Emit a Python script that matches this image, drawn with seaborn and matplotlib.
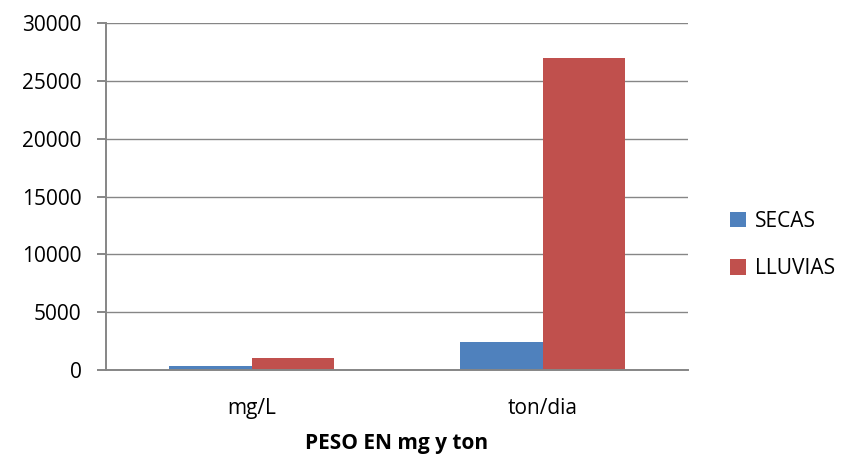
import matplotlib
matplotlib.use("Agg")
import matplotlib.pyplot as plt
import seaborn as sns
import pandas as pd

categories = ["mg/L", "ton/dia"]
secas = [350, 2450]
lluvias = [1000, 27000]
series_names = ["SECAS", "LLUVIAS"]
colors = ["#4F81BD", "#C0504D"]
yticks = [0, 5000, 10000, 15000, 20000, 25000, 30000]

df = pd.DataFrame({
    "categoria": categories * 2,
    "valor": secas + lluvias,
    "serie": [series_names[0]] * len(categories) + [series_names[1]] * len(categories),
})

sns.set_style("white")
plt.rcParams["font.family"] = ["Open Sans", "DejaVu Sans"]
plt.rcParams["text.color"] = "black"
plt.rcParams["xtick.color"] = "black"
plt.rcParams["ytick.color"] = "black"
plt.rcParams["axes.labelcolor"] = "black"

fig = plt.figure(figsize=(8.44, 4.59), dpi=100)
ax = fig.add_axes([0.1256, 0.1939, 0.6896, 0.7553])

sns.barplot(data=df, x="categoria", y="valor", hue="serie", palette=colors,
            width=0.57, saturation=1, ax=ax, edgecolor="none", legend=True)

grey = "#868686"
ax.set_ylim(0, 30000)
ax.set_xlim(-0.5, 1.5)
ax.set_yticks(yticks)
ax.set_yticklabels([str(t) for t in yticks], fontsize=15)
ax.tick_params(axis="x", labelsize=15, length=0, pad=20, labelcolor="black")
ax.tick_params(axis="y", length=6.5, color=grey, width=1.4, pad=11, left=True,
               labelcolor="black")
ax.yaxis.grid(True, color=grey, linewidth=1.0)
ax.set_axisbelow(True)

for s in ["top", "right"]:
    ax.spines[s].set_visible(False)
for s in ["left", "bottom"]:
    ax.spines[s].set_color(grey)
    ax.spines[s].set_linewidth(1.4)

ax.set_ylabel("")
ax.set_xlabel("PESO EN mg y ton", fontsize=15, fontweight="bold", color="black")
ax.xaxis.set_label_coords(0.5, -0.2126)
ax.xaxis.label.set_va("center")

leg = ax.legend(loc="center left", bbox_to_anchor=(0.865, 0.466),
                bbox_transform=fig.transFigure, frameon=False,
                fontsize=15, handlelength=0.75, handleheight=0.75,
                handletextpad=0.45, labelspacing=1.26, borderpad=0,
                borderaxespad=0)
for t in leg.get_texts():
    t.set_color("black")

fig.savefig("out.png", dpi=100)
